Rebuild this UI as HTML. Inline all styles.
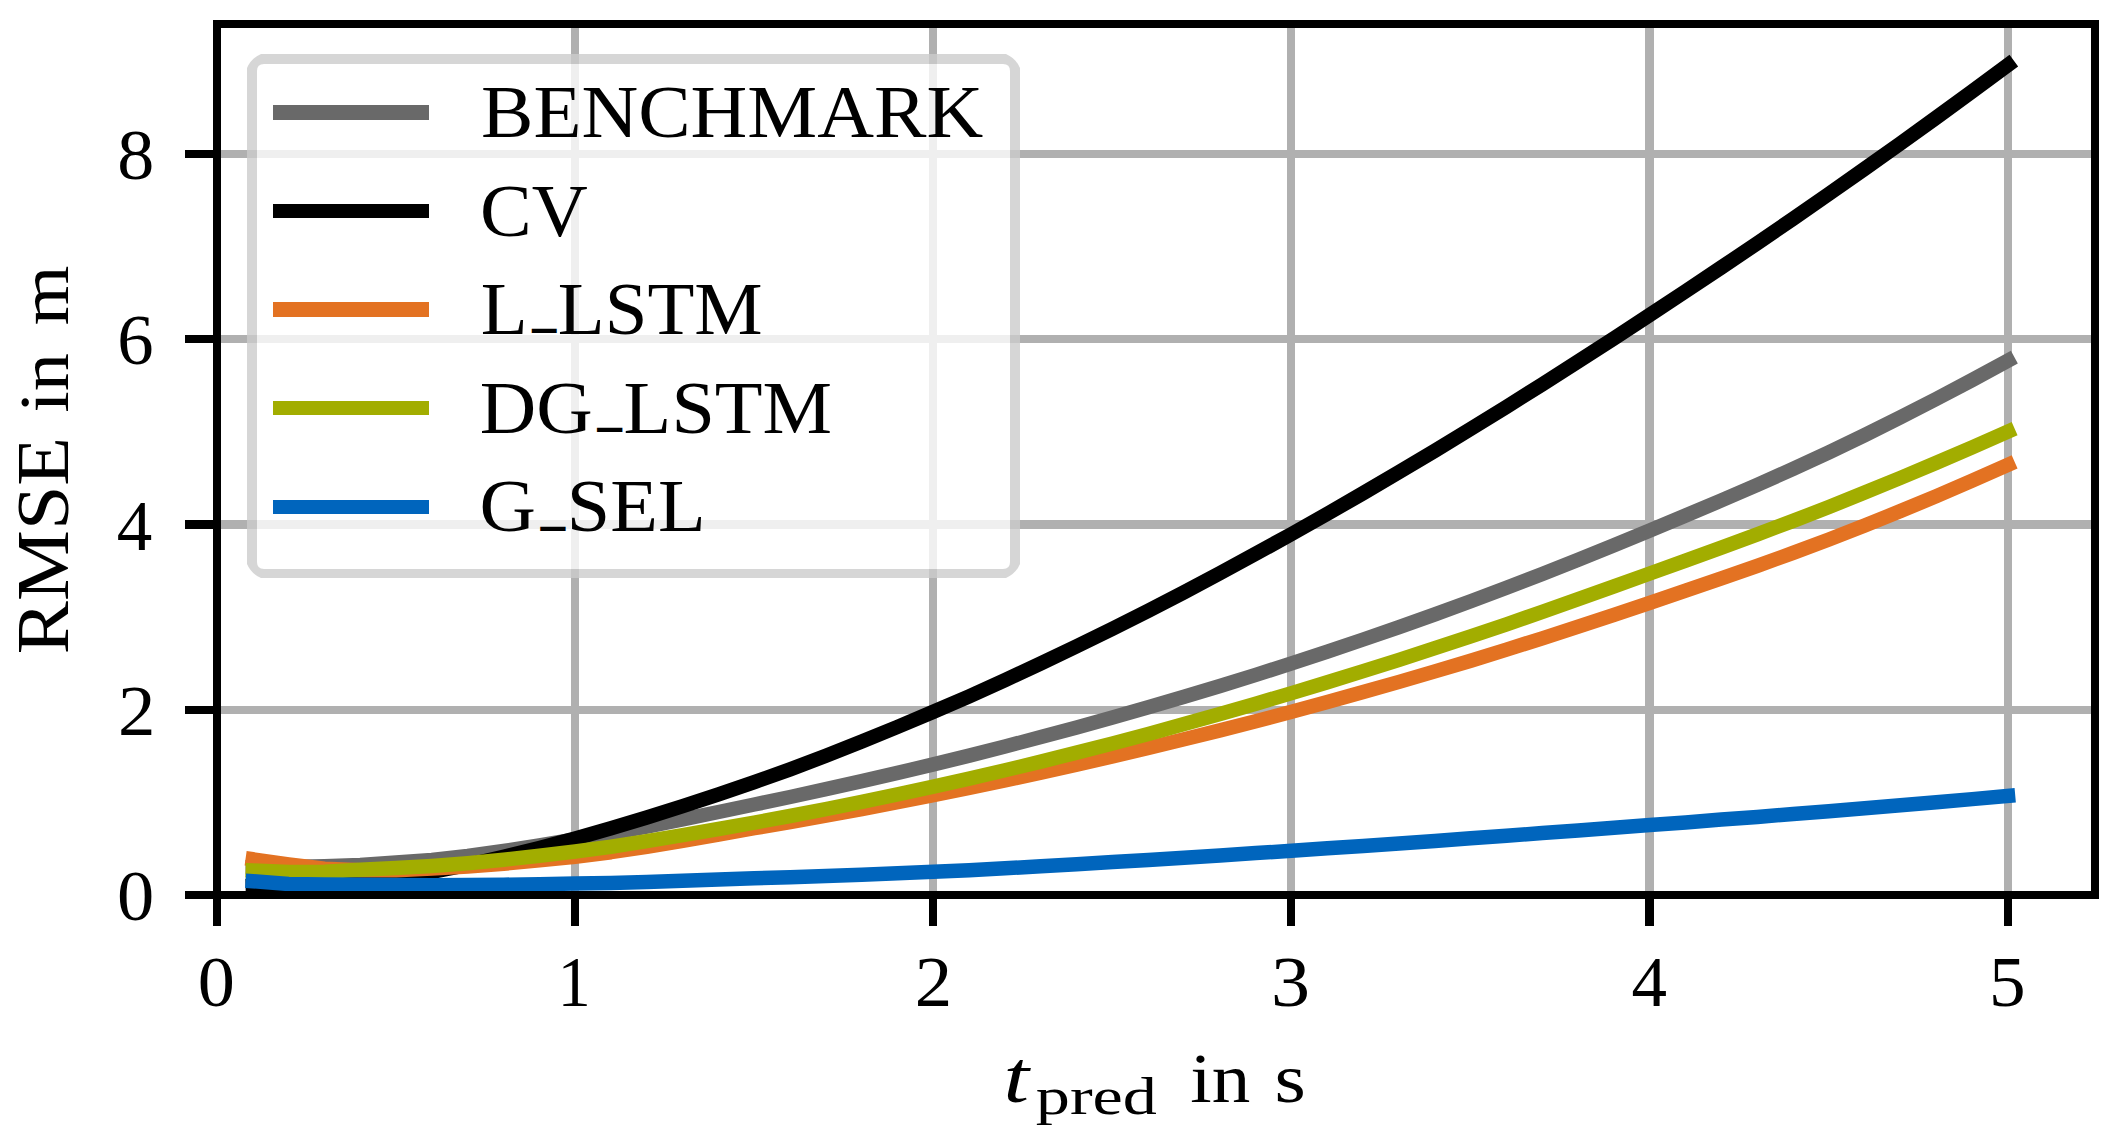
<!DOCTYPE html>
<html lang="en"><head><meta charset="utf-8"><title>RMSE over prediction time</title>
<style>html,body{margin:0;padding:0;background:#fff}body{width:2117px;height:1140px;overflow:hidden}svg{display:block}text{font-family:"Liberation Serif","DejaVu Serif",serif;fill:#000;white-space:pre}</style>
</head><body>
<svg width="2117" height="1140" viewBox="0 0 2117 1140">
<rect width="2117" height="1140" fill="#fff"/>
<defs><clipPath id="ax"><rect x="217" y="24" width="1878" height="871"/></clipPath></defs>
<g fill="#b0b0b0" shape-rendering="crispEdges">
<rect x="571" y="24" width="8" height="871"/>
<rect x="929" y="24" width="8" height="871"/>
<rect x="1287" y="24" width="8" height="871"/>
<rect x="1645" y="24" width="9" height="871"/>
<rect x="2004" y="24" width="8" height="871"/>
<rect x="217" y="706" width="1878" height="8"/>
<rect x="217" y="520" width="1878" height="9"/>
<rect x="217" y="335" width="1878" height="8"/>
<rect x="217" y="150" width="1878" height="8"/>
</g>
<g fill="none" stroke-width="14.5" stroke-linecap="square" stroke-linejoin="round" clip-path="url(#ax)">
<path stroke="#696969" d="M252.8 867.2 L288.6 866.9 L324.5 866.2 L360.3 865.1 L396.1 862.6 L431.9 859.9 L467.7 856.0 L503.6 851.0 L539.4 845.3 L575.2 839.4 L611.0 833.2 L646.8 826.5 L682.7 819.4 L718.5 812.0 L754.3 804.5 L790.1 797.0 L825.9 789.2 L861.8 781.2 L897.6 772.9 L933.4 764.4 L969.2 755.6 L1005.0 746.5 L1040.9 737.1 L1076.7 727.5 L1112.5 717.6 L1148.3 707.3 L1184.1 696.8 L1220.0 686.0 L1255.8 674.8 L1291.6 663.4 L1327.4 651.6 L1363.2 639.5 L1399.1 627.1 L1434.9 614.3 L1470.7 601.2 L1506.5 587.8 L1542.3 573.9 L1578.2 559.7 L1614.0 545.2 L1649.8 530.5 L1685.6 515.5 L1721.4 500.4 L1757.3 484.9 L1793.1 468.9 L1828.9 452.3 L1864.7 435.1 L1900.5 417.3 L1936.4 398.9 L1972.2 380.0 L2008.0 360.6"/>
<path stroke="#000000" d="M252.8 885.7 L288.6 884.7 L324.5 883.0 L360.3 880.2 L396.1 876.5 L431.9 871.8 L467.7 865.0 L503.6 856.7 L539.4 848.0 L575.2 838.5 L611.0 828.2 L646.8 817.5 L682.7 806.2 L718.5 794.4 L754.3 782.1 L790.1 769.3 L825.9 755.7 L861.8 741.5 L897.6 726.9 L933.4 711.8 L969.2 696.3 L1005.0 680.1 L1040.9 663.4 L1076.7 646.2 L1112.5 628.7 L1148.3 610.7 L1184.1 592.2 L1220.0 573.1 L1255.8 553.7 L1291.6 534.0 L1327.4 513.8 L1363.2 493.1 L1399.1 472.1 L1434.9 450.7 L1470.7 428.9 L1506.5 406.8 L1542.3 384.3 L1578.2 361.4 L1614.0 338.3 L1649.8 314.9 L1685.6 291.3 L1721.4 267.4 L1757.3 243.2 L1793.1 218.7 L1828.9 193.9 L1864.7 168.7 L1900.5 143.3 L1936.4 117.5 L1972.2 91.3 L2008.0 64.9"/>
<path stroke="#e37222" d="M252.8 859.3 L288.6 864.4 L324.5 868.8 L360.3 870.3 L396.1 870.2 L431.9 868.6 L467.7 866.5 L503.6 863.7 L539.4 860.4 L575.2 856.7 L611.0 852.2 L646.8 846.8 L682.7 840.8 L718.5 834.5 L754.3 828.2 L790.1 822.0 L825.9 815.6 L861.8 809.0 L897.6 802.2 L933.4 795.1 L969.2 787.9 L1005.0 780.4 L1040.9 772.6 L1076.7 764.6 L1112.5 756.5 L1148.3 748.0 L1184.1 739.3 L1220.0 730.4 L1255.8 721.2 L1291.6 711.8 L1327.4 702.1 L1363.2 692.1 L1399.1 681.9 L1434.9 671.4 L1470.7 660.7 L1506.5 649.6 L1542.3 638.3 L1578.2 626.6 L1614.0 614.8 L1649.8 602.8 L1685.6 590.6 L1721.4 578.4 L1757.3 565.8 L1793.1 552.9 L1828.9 539.5 L1864.7 525.5 L1900.5 511.1 L1936.4 496.1 L1972.2 480.7 L2008.0 464.9"/>
<path stroke="#a2ad00" d="M252.8 870.5 L288.6 872.0 L324.5 871.7 L360.3 869.8 L396.1 868.0 L431.9 865.9 L467.7 863.2 L503.6 859.7 L539.4 855.8 L575.2 851.5 L611.0 846.7 L646.8 841.2 L682.7 835.2 L718.5 829.0 L754.3 822.6 L790.1 816.0 L825.9 809.1 L861.8 801.9 L897.6 794.4 L933.4 786.7 L969.2 778.7 L1005.0 770.3 L1040.9 761.6 L1076.7 752.6 L1112.5 743.4 L1148.3 733.9 L1184.1 724.1 L1220.0 714.0 L1255.8 703.7 L1291.6 693.1 L1327.4 682.3 L1363.2 671.2 L1399.1 659.8 L1434.9 648.2 L1470.7 636.4 L1506.5 624.3 L1542.3 611.9 L1578.2 599.2 L1614.0 586.4 L1649.8 573.5 L1685.6 560.6 L1721.4 547.6 L1757.3 534.4 L1793.1 520.9 L1828.9 507.0 L1864.7 492.6 L1900.5 477.9 L1936.4 462.8 L1972.2 447.3 L2008.0 431.5"/>
<path stroke="#0065bd" d="M252.8 881.2 L288.6 883.9 L324.5 884.5 L360.3 884.8 L396.1 885.1 L431.9 885.2 L467.7 885.0 L503.6 884.7 L539.4 884.2 L575.2 883.6 L611.0 882.9 L646.8 881.9 L682.7 880.8 L718.5 879.5 L754.3 878.3 L790.1 877.2 L825.9 876.0 L861.8 874.7 L897.6 873.3 L933.4 871.8 L969.2 870.2 L1005.0 868.3 L1040.9 866.3 L1076.7 864.2 L1112.5 862.1 L1148.3 860.0 L1184.1 857.7 L1220.0 855.4 L1255.8 853.1 L1291.6 850.7 L1327.4 848.3 L1363.2 845.9 L1399.1 843.4 L1434.9 840.9 L1470.7 838.3 L1506.5 835.7 L1542.3 833.1 L1578.2 830.5 L1614.0 827.8 L1649.8 825.1 L1685.6 822.4 L1721.4 819.6 L1757.3 816.9 L1793.1 814.0 L1828.9 811.2 L1864.7 808.2 L1900.5 805.2 L1936.4 802.2 L1972.2 799.1 L2008.0 795.9"/>
</g>
<g fill="#000" shape-rendering="crispEdges">
<rect x="213" y="895" width="8" height="31"/>
<rect x="571" y="895" width="8" height="31"/>
<rect x="929" y="895" width="8" height="31"/>
<rect x="1287" y="895" width="8" height="31"/>
<rect x="1645" y="895" width="9" height="31"/>
<rect x="2004" y="895" width="8" height="31"/>
<rect x="185" y="891" width="32" height="8"/>
<rect x="185" y="706" width="32" height="8"/>
<rect x="185" y="520" width="32" height="9"/>
<rect x="185" y="335" width="32" height="8"/>
<rect x="185" y="150" width="32" height="8"/>
</g>
<rect x="217" y="24" width="1878" height="871" fill="none" stroke="#000" stroke-width="8" stroke-linejoin="miter"/>
<path d="M264 64 L1003 64 Q1010 64 1010 71 L1010 562 Q1010 569 1003 569 L264 569 Q257 569 257 562 L257 71 Q257 64 264 64 Z" fill="#fff" fill-opacity="0.8"/>
<path d="M261 54 L1006 54 Q1015.8 58.2 1020 68 L1020 564 Q1015.8 573.8 1006 578 L261 578 Q251.2 573.8 247 564 L247 68 Q251.2 58.2 261 54 Z M264 64 L1003 64 Q1010 64 1010 71 L1010 562 Q1010 569 1003 569 L264 569 Q257 569 257 562 L257 71 Q257 64 264 64 Z" fill="#ccc" fill-opacity="0.8" fill-rule="evenodd"/>
<g shape-rendering="crispEdges">
<rect x="273" y="105" width="156" height="15" fill="#696969"/>
<rect x="273" y="204" width="156" height="14" fill="#000000"/>
<rect x="273" y="302" width="156" height="15" fill="#e37222"/>
<rect x="273" y="401" width="156" height="14" fill="#a2ad00"/>
<rect x="273" y="500" width="156" height="14" fill="#0065bd"/>
</g>
<g>
<text x="481.01" y="137.20" font-size="73.5" textLength="502.19" lengthAdjust="spacingAndGlyphs">BENCHMARK</text>
<text x="480.01" y="235.60" font-size="73.5" textLength="107.72" lengthAdjust="spacingAndGlyphs">CV</text>
<text x="480.67" y="333.80" font-size="73.5" textLength="281.97" lengthAdjust="spacingAndGlyphs">L<tspan font-size="42" dy="-6.5" dx="5.5" stroke="#000" stroke-width="2.2">_</tspan><tspan dy="6.5" dx="2.5">LSTM</tspan></text>
<text x="479.84" y="432.60" font-size="73.5" textLength="352.31" lengthAdjust="spacingAndGlyphs">DG<tspan font-size="42" dy="-6.5" dx="5.5" stroke="#000" stroke-width="2.2">_</tspan><tspan dy="6.5" dx="2.5">LSTM</tspan></text>
<text x="479.62" y="531.40" font-size="73.5" textLength="226.05" lengthAdjust="spacingAndGlyphs">G<tspan font-size="42" dy="-6.5" dx="5.5" stroke="#000" stroke-width="2.2">_</tspan><tspan dy="6.5" dx="2.5">SEL</tspan></text>
<text x="197.86" y="1006.00" font-size="71.6" textLength="37.14" lengthAdjust="spacingAndGlyphs">0</text>
<text x="557.48" y="1006.00" font-size="71.6" textLength="33.29" lengthAdjust="spacingAndGlyphs">1</text>
<text x="914.85" y="1006.00" font-size="71.6" textLength="37.44" lengthAdjust="spacingAndGlyphs">2</text>
<text x="1271.13" y="1006.00" font-size="71.6" textLength="39.03" lengthAdjust="spacingAndGlyphs">3</text>
<text x="1631.53" y="1006.00" font-size="71.6" textLength="35.53" lengthAdjust="spacingAndGlyphs">4</text>
<text x="1989.14" y="1006.00" font-size="71.6" textLength="36.60" lengthAdjust="spacingAndGlyphs">5</text>
<text x="117.06" y="920.00" font-size="71.6" textLength="37.24" lengthAdjust="spacingAndGlyphs">0</text>
<text x="118.11" y="735.00" font-size="71.6" textLength="37.45" lengthAdjust="spacingAndGlyphs">2</text>
<text x="116.80" y="549.50" font-size="71.6" textLength="35.50" lengthAdjust="spacingAndGlyphs">4</text>
<text x="117.15" y="364.00" font-size="71.6" textLength="36.37" lengthAdjust="spacingAndGlyphs">6</text>
<text x="117.23" y="179.00" font-size="71.6" textLength="37.04" lengthAdjust="spacingAndGlyphs">8</text>
<text x="1003.63" y="1102.00" font-size="74" textLength="25.57" lengthAdjust="spacingAndGlyphs" font-style="italic">t</text>
<text x="1035.82" y="1113.70" font-size="52.5" textLength="121.17" lengthAdjust="spacingAndGlyphs">pred</text>
<text x="1171.02" y="1102.00" font-size="70" textLength="98.56" lengthAdjust="spacingAndGlyphs"> in </text>
<text x="1274.56" y="1102.00" font-size="70" textLength="31.33" lengthAdjust="spacingAndGlyphs">s</text>
<text transform="translate(67.90 654.23) rotate(-90)" font-size="73.9" textLength="237.20" lengthAdjust="spacingAndGlyphs">RMSE </text>
<text transform="translate(67.90 412.49) rotate(-90)" font-size="70" textLength="78.55" lengthAdjust="spacingAndGlyphs">in </text>
<text transform="translate(67.90 325.36) rotate(-90)" font-size="70" textLength="59.66" lengthAdjust="spacingAndGlyphs">m</text>
</g>
</svg>
</body></html>
